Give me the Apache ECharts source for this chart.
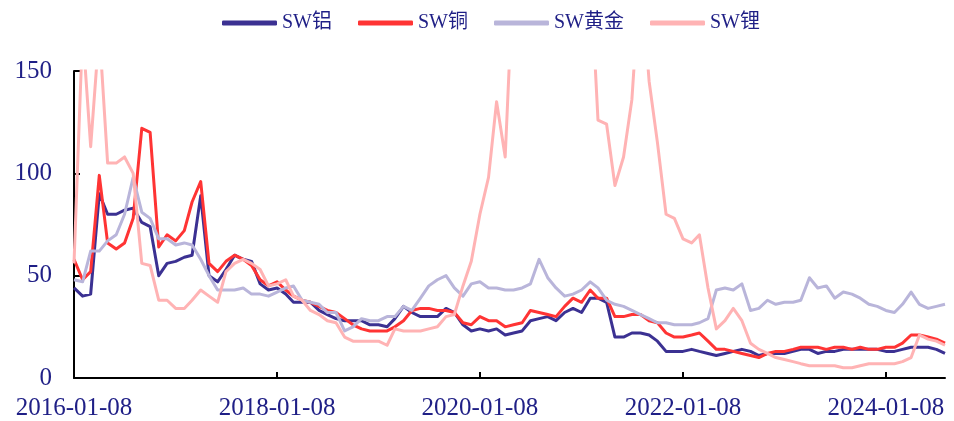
<!DOCTYPE html>
<html>
<head>
<meta charset="utf-8">
<script src="https://cdn.jsdelivr.net/npm/echarts@6/dist/echarts.min.js"></script>
<style>
  html, body { margin: 0; padding: 0; background: #ffffff; }
  #chart { width: 954px; height: 421px; }
</style>
</head>
<body>
<div id="chart"></div>
<script>
// Monthly observation dates (8th of each month)
const dates = [
  '2016-01-08','2016-02-08','2016-03-08','2016-04-08','2016-05-08','2016-06-08','2016-07-08','2016-08-08','2016-09-08','2016-10-08','2016-11-08','2016-12-08',
  '2017-01-08','2017-02-08','2017-03-08','2017-04-08','2017-05-08','2017-06-08','2017-07-08','2017-08-08','2017-09-08','2017-10-08','2017-11-08','2017-12-08',
  '2018-01-08','2018-02-08','2018-03-08','2018-04-08','2018-05-08','2018-06-08','2018-07-08','2018-08-08','2018-09-08','2018-10-08','2018-11-08','2018-12-08',
  '2019-01-08','2019-02-08','2019-03-08','2019-04-08','2019-05-08','2019-06-08','2019-07-08','2019-08-08','2019-09-08','2019-10-08','2019-11-08','2019-12-08',
  '2020-01-08','2020-02-08','2020-03-08','2020-04-08','2020-05-08','2020-06-08','2020-07-08','2020-08-08','2020-09-08','2020-10-08','2020-11-08','2020-12-08',
  '2021-01-08','2021-02-08','2021-03-08','2021-04-08','2021-05-08','2021-06-08','2021-07-08','2021-08-08','2021-09-08','2021-10-08','2021-11-08','2021-12-08',
  '2022-01-08','2022-02-08','2022-03-08','2022-04-08','2022-05-08','2022-06-08','2022-07-08','2022-08-08','2022-09-08','2022-10-08','2022-11-08','2022-12-08',
  '2023-01-08','2023-02-08','2023-03-08','2023-04-08','2023-05-08','2023-06-08','2023-07-08','2023-08-08','2023-09-08','2023-10-08','2023-11-08','2023-12-08',
  '2024-01-08','2024-02-08','2024-03-08','2024-04-08','2024-05-08','2024-06-08','2024-07-08','2024-08-08'
];

// Valuation series (PE), one value per date
const aluminium = [
  44,40,41,90,80,80,82,83,76,74,50,56,
  57,59,60,89,50,47,53,60,58,57,46,43,
  44,41,37,37,37,33,31,29,28,28,28,26,
  26,25,29,35,32,30,30,30,34,32,26,23,
  24,23,24,21,22,23,28,29,30,28,32,34,
  32,39,39,37,20,20,22,22,21,18,13,13,
  13,14,13,12,11,12,13,14,13,11,12,12,
  12,13,14,14,12,13,13,14,14,14,14,14,
  13,13,14,15,15,15,14,12
];
const copper = [
  58,48,52,99,66,63,66,78,122,120,64,70,
  67,72,86,96,56,52,57,60,58,55,48,45,
  47,43,40,38,37,35,33,32,29,26,24,23,
  23,23,25,28,33,34,34,33,33,32,27,26,
  30,28,28,25,26,27,33,32,31,30,35,39,
  37,43,39,39,30,30,31,31,28,27,22,20,
  20,21,22,18,14,14,13,12,11,10,12,13,
  13,14,15,15,15,14,15,15,14,15,14,14,
  15,15,17,21,21,20,19,17
];
const gold = [
  48,47,62,62,67,70,80,98,81,78,68,68,
  65,66,65,58,50,43,43,43,44,41,41,40,
  42,44,45,38,37,36,32,32,23,25,29,28,
  28,30,30,35,33,39,45,48,50,44,40,46,
  47,44,44,43,43,44,46,58,49,44,40,41,
  43,47,44,38,36,35,33,31,29,27,27,26,
  26,26,27,29,43,44,43,46,33,34,38,36,
  37,37,38,49,44,45,39,42,41,39,36,35,
  33,32,36,42,36,34,35,36
];
const lithium = [
  56,170,113,170,105,105,108,100,56,55,38,38,
  34,34,38,43,40,37,52,56,58,56,53,45,
  46,48,40,38,33,31,28,27,20,18,18,18,
  18,16,24,23,23,23,24,25,30,31,45,57,
  80,98,135,108,200,200,200,200,200,200,200,200,
  200,200,126,124,94,108,136,200,145,115,80,78,
  68,66,70,44,24,28,34,28,17,14,12,10,
  9,8,7,6,6,6,6,5,5,6,7,7,
  7,7,8,10,21,19,18,16
];

// Axis labels and ticks
const tickDates = ['2016-01-08','2018-01-08','2020-01-08','2022-01-08','2024-01-08'];
const seriesNames = ['SW铝','SW铜','SW黄金','SW锂'];
const seriesColors = ['#3b3192','#ff3434','#b9b5da','#ffb3b4'];

function toTime(s) {
  const p = s.split('-');
  return new Date(+p[0], +p[1] - 1, +p[2]).getTime();
}
function fmt(t) {
  const d = new Date(t);
  const mm = String(d.getMonth() + 1).padStart(2, '0');
  const dd = String(d.getDate()).padStart(2, '0');
  return d.getFullYear() + '-' + mm + '-' + dd;
}

const valueSets = [aluminium, copper, gold, lithium];
const fontFam = "'Liberation Serif', 'Times New Roman', 'Noto Sans CJK SC', serif";
const labelColor = '#1f1f86';
const tickTimes = tickDates.map(toTime);

const chart = echarts.init(document.getElementById('chart'), null, { renderer: 'canvas' });
chart.setOption({
  animation: false,
  backgroundColor: '#ffffff',
  legend: {
    top: 8,
    left: 217,
    icon: 'roundRect',
    itemWidth: 55,
    itemHeight: 5,
    itemGap: 26,
    textStyle: { fontFamily: fontFam, fontSize: 20, color: labelColor },
    data: seriesNames
  },
  grid: { left: 74, right: 9, top: 71, bottom: 41, containLabel: false },
  xAxis: {
    type: 'value',
    min: toTime(dates[0]),
    max: toTime(dates[dates.length - 1]),
    axisLine: { lineStyle: { color: '#000', width: 2 } },
    axisTick: { inside: true, length: 6, lineStyle: { color: '#000', width: 2 }, customValues: tickTimes },
    axisLabel: {
      customValues: tickTimes,
      formatter: function (v) { return fmt(v); },
      fontFamily: fontFam, fontSize: 25, color: labelColor, margin: 18
    },
    splitLine: { show: false }
  },
  yAxis: {
    type: 'value',
    min: 0, max: 150, interval: 50,
    axisLine: { show: true, lineStyle: { color: '#000', width: 2 } },
    axisTick: { show: true, inside: true, length: 6, lineStyle: { color: '#000', width: 2 } },
    axisLabel: { fontFamily: fontFam, fontSize: 25, color: labelColor, margin: 22 },
    splitLine: { show: false }
  },
  series: seriesNames.map(function (name, i) {
    return {
      name: name,
      type: 'line',
      symbol: 'none',
      clip: true,
      color: seriesColors[i],
      itemStyle: { color: seriesColors[i] },
      lineStyle: { width: 3, color: seriesColors[i], join: 'round' },
      data: dates.map(function (d, j) { return [toTime(d), valueSets[i][j]]; })
    };
  })
});
</script>
</body>
</html>
